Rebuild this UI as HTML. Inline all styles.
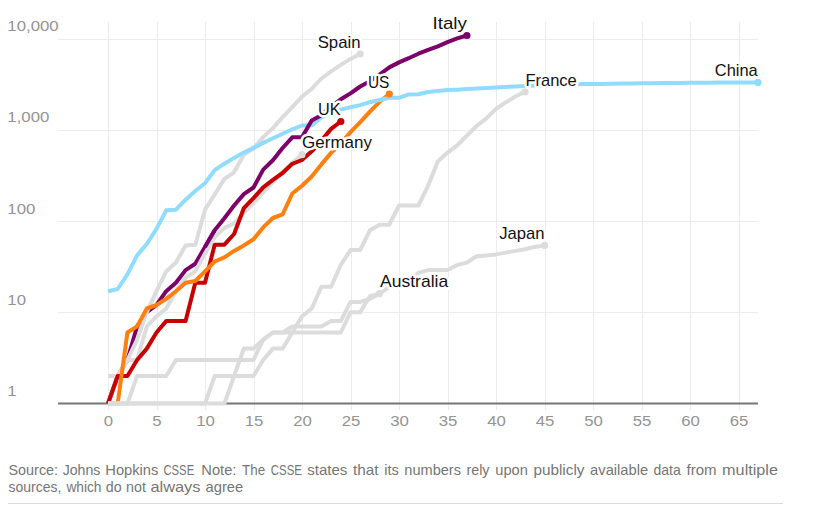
<!DOCTYPE html>
<html><head><meta charset="utf-8"><title>chart</title>
<style>
html,body{margin:0;padding:0;background:#fff;}
body{width:814px;height:507px;overflow:hidden;position:relative;font-family:"Liberation Sans",sans-serif;}
svg{position:absolute;left:0;top:0;}
svg text{font-family:"Liberation Sans",sans-serif;}
.ax{font-size:15.4px;fill:#949494;}
.lab{font-size:16.6px;fill:#121212;paint-order:stroke;stroke:#fff;stroke-width:5px;stroke-linejoin:round;}
.ln{fill:none;stroke-width:4;stroke-linejoin:round;stroke-linecap:butt;}
.ft{font-size:15px;fill:#767676;}
.rule{position:absolute;left:8px;top:503px;width:775px;height:1px;background:#dcdcdc;}
</style></head><body>
<svg width="814" height="507" viewBox="0 0 814 507">
<g stroke="#ececec" stroke-width="1" shape-rendering="crispEdges">
<line x1="108.5" y1="22" x2="108.5" y2="410"/>
<line x1="157.5" y1="22" x2="157.5" y2="410"/>
<line x1="205.5" y1="22" x2="205.5" y2="410"/>
<line x1="254.5" y1="22" x2="254.5" y2="410"/>
<line x1="302.5" y1="22" x2="302.5" y2="410"/>
<line x1="351.5" y1="22" x2="351.5" y2="410"/>
<line x1="399.5" y1="22" x2="399.5" y2="410"/>
<line x1="448.5" y1="22" x2="448.5" y2="410"/>
<line x1="496.5" y1="22" x2="496.5" y2="410"/>
<line x1="545.5" y1="22" x2="545.5" y2="410"/>
<line x1="593.5" y1="22" x2="593.5" y2="410"/>
<line x1="642.5" y1="22" x2="642.5" y2="410"/>
<line x1="690.5" y1="22" x2="690.5" y2="410"/>
<line x1="739.5" y1="22" x2="739.5" y2="410"/>
<line x1="58" y1="312.5" x2="758" y2="312.5"/>
<line x1="58" y1="221.5" x2="758" y2="221.5"/>
<line x1="58" y1="130.5" x2="758" y2="130.5"/>
<line x1="58" y1="39.5" x2="758" y2="39.5"/>
</g>
<g class="ax">
<text x="7.30" y="396.0" textLength="9.34" lengthAdjust="spacingAndGlyphs">1</text>
<text x="7.30" y="304.8" textLength="18.67" lengthAdjust="spacingAndGlyphs">10</text>
<text x="7.30" y="213.5" textLength="28.01" lengthAdjust="spacingAndGlyphs">100</text>
<text x="7.30" y="122.2" textLength="42.01" lengthAdjust="spacingAndGlyphs">1,000</text>
<text x="7.30" y="31.0" textLength="51.34" lengthAdjust="spacingAndGlyphs">10,000</text>
<text x="108.5" y="425.5" text-anchor="middle" textLength="9.34" lengthAdjust="spacingAndGlyphs">0</text>
<text x="157.0" y="425.5" text-anchor="middle" textLength="9.34" lengthAdjust="spacingAndGlyphs">5</text>
<text x="205.5" y="425.5" text-anchor="middle" textLength="18.67" lengthAdjust="spacingAndGlyphs">10</text>
<text x="254.0" y="425.5" text-anchor="middle" textLength="18.67" lengthAdjust="spacingAndGlyphs">15</text>
<text x="302.5" y="425.5" text-anchor="middle" textLength="18.67" lengthAdjust="spacingAndGlyphs">20</text>
<text x="351.0" y="425.5" text-anchor="middle" textLength="18.67" lengthAdjust="spacingAndGlyphs">25</text>
<text x="399.5" y="425.5" text-anchor="middle" textLength="18.67" lengthAdjust="spacingAndGlyphs">30</text>
<text x="448.0" y="425.5" text-anchor="middle" textLength="18.67" lengthAdjust="spacingAndGlyphs">35</text>
<text x="496.5" y="425.5" text-anchor="middle" textLength="18.67" lengthAdjust="spacingAndGlyphs">40</text>
<text x="545.0" y="425.5" text-anchor="middle" textLength="18.67" lengthAdjust="spacingAndGlyphs">45</text>
<text x="593.5" y="425.5" text-anchor="middle" textLength="18.67" lengthAdjust="spacingAndGlyphs">50</text>
<text x="642.0" y="425.5" text-anchor="middle" textLength="18.67" lengthAdjust="spacingAndGlyphs">55</text>
<text x="690.5" y="425.5" text-anchor="middle" textLength="18.67" lengthAdjust="spacingAndGlyphs">60</text>
<text x="739.0" y="425.5" text-anchor="middle" textLength="18.67" lengthAdjust="spacingAndGlyphs">65</text>
</g>
<rect x="58" y="402.5" width="700" height="2" fill="#767676"/>
<polyline class="ln" stroke="#7d0068" points="108.0,403.5 117.7,376.0 127.4,360.0 137.1,326.4 146.8,312.2 156.5,305.0 166.2,291.2 175.9,282.8 185.6,270.1 195.3,263.8 205.0,246.9 214.7,230.3"/>
<polyline class="ln" stroke="#dcdcdc" points="108.0,403.5 117.7,376.0 127.4,360.0 137.1,339.7 146.8,312.2 156.5,291.2 166.2,271.4 175.9,262.6 185.6,245.4 195.3,244.7 205.0,209.7 214.7,194.5 224.4,178.9 234.1,172.3 243.8,154.7 253.5,148.5 263.2,137.1 272.9,128.1 282.6,117.1 292.3,107.1 302.0,96.6 311.7,88.8 321.4,78.5 331.1,71.4 340.8,64.9 350.5,58.9 360.2,53.8"/>
<polyline class="ln" stroke="#dcdcdc" points="108.0,376.0 117.7,376.0 127.4,360.0 137.1,360.0 146.8,326.4 156.5,316.4 166.2,308.5 175.9,291.2 185.6,277.6 195.3,271.4 205.0,253.5 214.7,236.9 224.4,227.9 234.1,223.5 243.8,212.8 253.5,203.1 263.2,192.4 272.9,182.1 282.6,172.3 292.3,162.9 302.0,154.7"/>
<polyline class="ln" stroke="#c70000" points="108.0,403.5 117.7,376.0 127.4,376.0 137.1,360.0 146.8,348.6 156.5,332.5 166.2,321.1 175.9,321.1 185.6,321.1 195.3,282.8 205.0,282.8 214.7,244.7 224.4,244.7 234.1,234.0 243.8,208.2 253.5,198.1 263.2,187.3 272.9,179.9 282.6,173.0 292.3,163.8 302.0,160.0 311.7,151.3 321.4,140.6 331.1,128.9 340.8,121.5"/>
<polyline class="ln" stroke="#ff7f0f" points="108.0,403.5 117.7,403.5 127.4,332.5 137.1,326.4 146.8,308.5 156.5,305.0 166.2,298.9 175.9,291.2 185.6,282.8 195.3,281.0 205.0,271.4 214.7,261.5 224.4,257.3 234.1,250.9 243.8,245.4 253.5,239.3 263.2,227.4 272.9,218.0 282.6,214.4 292.3,193.5 302.0,185.7 311.7,176.5 321.4,164.4 331.1,152.9 340.8,143.5 350.5,132.1 360.2,122.2 369.9,111.6 379.6,101.8 389.3,94.0"/>
<polyline class="ln" stroke="#dcdcdc" points="108.0,403.5 117.7,403.5 127.4,403.5 137.1,376.0 146.8,376.0 156.5,376.0 166.2,376.0 175.9,360.0 185.6,360.0 195.3,360.0 205.0,360.0 214.7,360.0 224.4,360.0 234.1,360.0 243.8,360.0 253.5,360.0 263.2,339.7 272.9,332.5 282.6,332.5 292.3,326.4 302.0,326.4 311.7,326.4 321.4,326.4 331.1,321.1 340.8,321.1 350.5,301.9 360.2,301.9 369.9,298.9 379.6,293.6"/>
<polyline class="ln" stroke="#dcdcdc" points="108.0,403.5 117.7,403.5 127.4,403.5 137.1,403.5 146.8,403.5 156.5,403.5 166.2,403.5 175.9,403.5 185.6,403.5 195.3,403.5 205.0,403.5 214.7,376.0 224.4,376.0 234.1,376.0 243.8,376.0 253.5,376.0 263.2,360.0 272.9,348.6 282.6,348.6 292.3,332.5 302.0,316.4 311.7,308.5 321.4,286.8 331.1,286.8 340.8,264.9 350.5,250.1 360.2,250.1 369.9,230.3 379.6,224.7 389.3,224.7 399.0,205.5 408.7,205.5 418.4,205.5 428.1,185.8 437.8,161.4 447.5,152.6 457.2,145.4 466.9,135.7 476.6,126.0 486.3,118.4 496.0,108.8 505.7,102.4 515.4,96.5 525.1,91.8"/>
<polyline class="ln" stroke="#dcdcdc" points="108.0,403.5 117.7,403.5 127.4,403.5 137.1,403.5 146.8,403.5 156.5,403.5 166.2,403.5 175.9,403.5 185.6,403.5 195.3,403.5 205.0,403.5 214.7,403.5 224.4,403.5 234.1,376.0 243.8,348.6 253.5,348.6 263.2,339.7 272.9,332.5 282.6,332.5 292.3,332.5 302.0,332.5 311.7,332.5 321.4,332.5 331.1,332.5 340.8,332.5 350.5,312.2 360.2,312.2 369.9,296.2 379.6,293.6 389.3,286.8 399.0,281.0 408.7,281.0 418.4,272.9 428.1,270.1 437.8,270.1 447.5,270.1 457.2,264.9 466.9,262.6 476.6,256.3 486.3,255.4 496.0,254.4 505.7,252.6 515.4,250.9 525.1,249.3 534.8,246.9 544.5,245.4"/>
<polyline class="ln" stroke="#90dcff" points="108.0,291.2 117.7,289.0 127.4,274.4 137.1,255.4 146.8,244.0 156.5,228.9 166.2,210.3 175.9,209.7 185.6,199.7 195.3,191.0 205.0,183.3 214.7,170.1 224.4,163.7 234.1,157.9 243.8,152.5 253.5,147.9 263.2,142.9 272.9,138.3 282.6,133.7 292.3,129.3 302.0,125.5 311.7,125.4 321.4,117.3 331.1,113.1 340.8,109.6 350.5,107.2 360.2,105.1 369.9,102.2 379.6,100.0 389.3,97.8 399.0,97.8 408.7,94.4 418.4,94.3 428.1,92.0 437.8,90.9 447.5,90.1 457.2,89.7 466.9,89.1 476.6,88.4 486.3,87.9 496.0,87.4 505.7,86.9 515.4,86.4 525.1,86.0 534.8,85.6 544.5,85.3 554.2,84.9 563.9,84.6 573.6,84.4 583.3,84.1 593.0,84.0 602.7,83.9 612.4,83.7 622.1,83.6 631.8,83.4 641.5,83.3 651.2,83.2 660.9,83.1 670.6,83.0 680.3,82.9 690.0,82.7 699.7,82.7 709.4,82.7 719.1,82.6 728.8,82.5 738.5,82.5 748.2,82.4 757.9,82.4"/>
<polyline class="ln" stroke="#7d0068" points="205.0,246.9 214.7,230.3 224.4,218.3 234.1,205.5 243.8,194.1 253.5,187.5 263.2,169.6 272.9,160.3 282.6,148.0 292.3,137.3 302.0,137.3 311.7,120.4 321.4,115.3 331.1,106.3 340.8,99.3 350.5,93.4 360.2,86.5 369.9,81.2 379.6,74.5 389.3,67.4 399.0,62.4 408.7,58.2 418.4,53.7 428.1,49.9 437.8,46.3 447.5,42.1 457.2,38.4 466.9,35.5"/>
<circle cx="466.9" cy="35.5" r="3.6" fill="#7d0068"/>
<circle cx="360.2" cy="53.8" r="3.6" fill="#dcdcdc"/>
<circle cx="302.0" cy="154.7" r="3.6" fill="#dcdcdc"/>
<circle cx="340.8" cy="121.5" r="3.6" fill="#c70000"/>
<circle cx="389.3" cy="94.0" r="3.6" fill="#ff7f0f"/>
<circle cx="379.6" cy="293.6" r="3.6" fill="#dcdcdc"/>
<circle cx="525.1" cy="91.8" r="3.6" fill="#dcdcdc"/>
<circle cx="544.5" cy="245.4" r="3.6" fill="#dcdcdc"/>
<circle cx="757.9" cy="82.4" r="3.6" fill="#90dcff"/>
<text class="lab" x="432.50" y="28.7" textLength="34.40" lengthAdjust="spacingAndGlyphs">Italy</text>
<text class="lab" x="317.70" y="48" textLength="42.79" lengthAdjust="spacingAndGlyphs">Spain</text>
<text class="lab" x="367.90" y="88" textLength="21.50" lengthAdjust="spacingAndGlyphs">US</text>
<text class="lab" x="714.80" y="76" textLength="42.88" lengthAdjust="spacingAndGlyphs">China</text>
<text class="lab" x="525.40" y="86" textLength="51.41" lengthAdjust="spacingAndGlyphs">France</text>
<text class="lab" x="317.90" y="115" textLength="22.60" lengthAdjust="spacingAndGlyphs">UK</text>
<text class="lab" x="302.10" y="148" textLength="69.81" lengthAdjust="spacingAndGlyphs">Germany</text>
<text class="lab" x="499.20" y="239" textLength="45.29" lengthAdjust="spacingAndGlyphs">Japan</text>
<text class="lab" x="380.10" y="287" textLength="68.08" lengthAdjust="spacingAndGlyphs">Australia</text>
<text class="ft" x="8.50" y="474.6" textLength="49.60" lengthAdjust="spacingAndGlyphs">Source:</text>
<text class="ft" x="62.70" y="474.6" textLength="37.61" lengthAdjust="spacingAndGlyphs">Johns</text>
<text class="ft" x="105.30" y="474.6" textLength="53.10" lengthAdjust="spacingAndGlyphs">Hopkins</text>
<text class="ft" x="163.40" y="474.6" textLength="30.80" lengthAdjust="spacingAndGlyphs">CSSE</text>
<text class="ft" x="201.30" y="474.6" textLength="35.10" lengthAdjust="spacingAndGlyphs">Note:</text>
<text class="ft" x="242.10" y="474.6" textLength="23.10" lengthAdjust="spacingAndGlyphs">The</text>
<text class="ft" x="270.70" y="474.6" textLength="31.30" lengthAdjust="spacingAndGlyphs">CSSE</text>
<text class="ft" x="307.30" y="474.6" textLength="40.10" lengthAdjust="spacingAndGlyphs">states</text>
<text class="ft" x="352.90" y="474.6" textLength="25.60" lengthAdjust="spacingAndGlyphs">that</text>
<text class="ft" x="384.30" y="474.6" textLength="14.50" lengthAdjust="spacingAndGlyphs">its</text>
<text class="ft" x="404.30" y="474.6" textLength="56.69" lengthAdjust="spacingAndGlyphs">numbers</text>
<text class="ft" x="466.50" y="474.6" textLength="23.00" lengthAdjust="spacingAndGlyphs">rely</text>
<text class="ft" x="495.30" y="474.6" textLength="32.59" lengthAdjust="spacingAndGlyphs">upon</text>
<text class="ft" x="533.40" y="474.6" textLength="51.10" lengthAdjust="spacingAndGlyphs">publicly</text>
<text class="ft" x="590.10" y="474.6" textLength="58.10" lengthAdjust="spacingAndGlyphs">available</text>
<text class="ft" x="653.50" y="474.6" textLength="27.29" lengthAdjust="spacingAndGlyphs">data</text>
<text class="ft" x="686.50" y="474.6" textLength="30.10" lengthAdjust="spacingAndGlyphs">from</text>
<text class="ft" x="722.10" y="474.6" textLength="55.90" lengthAdjust="spacingAndGlyphs">multiple</text>
<text class="ft" x="8.50" y="492.4" textLength="52.90" lengthAdjust="spacingAndGlyphs">sources,</text>
<text class="ft" x="66.43" y="492.4" textLength="35.07" lengthAdjust="spacingAndGlyphs">which</text>
<text class="ft" x="105.80" y="492.4" textLength="15.80" lengthAdjust="spacingAndGlyphs">do</text>
<text class="ft" x="126.10" y="492.4" textLength="19.80" lengthAdjust="spacingAndGlyphs">not</text>
<text class="ft" x="150.40" y="492.4" textLength="50.09" lengthAdjust="spacingAndGlyphs">always</text>
<text class="ft" x="205.50" y="492.4" textLength="37.79" lengthAdjust="spacingAndGlyphs">agree</text>
</svg>
<div class="rule"></div>
</body></html>
